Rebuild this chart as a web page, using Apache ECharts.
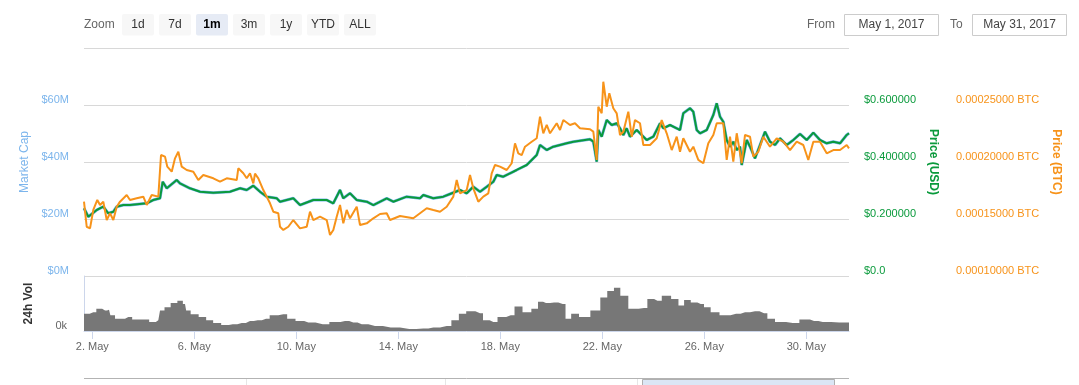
<!DOCTYPE html>
<html>
<head>
<meta charset="utf-8">
<script src="https://cdn.jsdelivr.net/npm/echarts@6/dist/echarts.min.js"></script>
<style>
html,body{margin:0;padding:0;background:#fff;}
#chart{width:1079px;height:385px;}
</style>
</head>
<body>
<div id="chart"></div>
<script>
// ---- data (x = days since 2017-05-01 00:00 UTC) ----
const usdDays = [
 0.674,0.843,1.172,1.431,1.627,1.824,1.957,2.216,2.478,3.133,
 3.392,3.655,3.761,3.918,4.310,4.439,4.831,5.224,5.745,6.400,
 6.792,7.055,7.314,7.576,7.839,8.231,8.361,8.882,9.145,9.667,
 10.192,10.450,10.714,10.843,11.106,11.369,11.761,12.020,12.545,12.804,
 13.329,13.851,13.980,14.373,14.765,15.027,15.420,15.683,15.941,16.204,
 16.467,16.725,16.859,17.118,17.380,17.643,18.035,18.427,18.557,18.820,
 19.078,19.341,19.604,19.863,20.125,20.518,20.647,20.714,20.780,20.843,
 20.976,21.173,21.369,21.565,21.694,21.824,21.955,22.086,22.349,22.545,
 22.741,23.000,23.263,23.392,23.655,23.918,24.047,24.176,24.439,24.569,
 24.702,24.831,25.094,25.353,25.486,25.616,25.745,25.878,26.008,26.137,
 26.271,26.400,26.467,26.663,26.792,26.988,27.184,27.380,27.576,27.773,
 27.969,28.231,28.490,28.753,29.016,29.275,29.537,29.800,30.059,30.322,
 30.584,30.674
];
const usdPrice = [
 0.2376,0.2080,0.2316,0.2432,0.2200,0.2256,0.2432,0.2490,0.2490,0.2550,
 0.2667,0.2726,0.3310,0.3077,0.3368,0.3250,0.3077,0.2958,0.2923,0.2958,
 0.3077,0.3018,0.3169,0.2958,0.2783,0.2726,0.2607,0.2726,0.2490,0.2667,
 0.2667,0.2550,0.3018,0.2726,0.2902,0.2667,0.2607,0.2490,0.2726,0.2607,
 0.2783,0.2726,0.2842,0.2726,0.2783,0.2877,0.3018,0.2902,0.3134,0.2958,
 0.3134,0.3309,0.3544,0.3484,0.3604,0.3720,0.3895,0.4246,0.4597,0.4421,
 0.4537,0.4597,0.4656,0.4713,0.4748,0.4797,0.4713,0.4362,0.4011,0.5123,
 0.4888,0.5474,0.5299,0.5358,0.5183,0.4948,0.5183,0.4888,0.5123,0.4948,
 0.4772,0.4888,0.5358,0.5183,0.5299,0.5183,0.5123,0.5709,0.5885,0.5765,
 0.5123,0.5007,0.5123,0.5650,0.6060,0.5590,0.5414,0.4772,0.4537,0.4713,
 0.4421,0.4537,0.3895,0.4772,0.4537,0.4130,0.4597,0.5064,0.4713,0.4597,
 0.4831,0.4597,0.4772,0.4983,0.4772,0.5029,0.4772,0.4656,0.4713,0.4656,
 0.4948,0.5007
];
const btcDays = [
 0.674,0.780,0.910,1.039,1.196,1.302,1.431,1.565,1.694,1.824,
 1.957,2.086,2.349,2.478,2.741,3.000,3.133,3.329,3.588,3.694,
 3.851,3.941,4.114,4.243,4.373,4.506,4.702,4.961,5.157,5.353,
 5.745,6.008,6.271,6.663,6.725,6.922,7.055,7.184,7.314,7.380,
 7.510,7.706,7.969,8.098,8.294,8.361,8.490,8.686,8.882,9.145,
 9.408,9.537,9.667,9.929,10.192,10.322,10.451,10.584,10.714,10.843,
 10.976,11.106,11.369,11.498,11.761,12.020,12.282,12.545,12.675,13.067,
 13.588,13.851,14.114,14.373,14.635,14.898,15.157,15.290,15.420,15.683,
 15.812,15.941,16.137,16.333,16.529,16.663,16.792,16.988,17.251,17.447,
 17.576,17.706,17.839,17.969,18.231,18.427,18.557,18.686,18.820,18.949,
 19.212,19.341,19.471,19.733,19.929,20.125,20.518,20.647,20.780,20.843,
 20.976,21.039,21.173,21.275,21.431,21.565,21.694,21.824,22.020,22.153,
 22.282,22.478,22.608,22.871,23.133,23.329,23.525,23.722,23.918,24.047,
 24.176,24.439,24.569,24.765,24.961,25.157,25.353,25.486,25.745,25.878,
 26.008,26.137,26.271,26.467,26.596,26.792,26.922,27.118,27.314,27.576,
 27.839,28.098,28.361,28.624,28.882,29.078,29.275,29.537,29.800,30.059,
 30.322,30.584,30.674
];
const btcPrice = [
 0.0001652,0.0001432,0.0001418,0.0001579,0.0001667,0.0001623,0.0001652,0.0001491,0.0001550,0.0001491,
 0.0001608,0.0001652,0.0001711,0.0001667,0.0001682,0.0001696,0.0001623,0.0001711,0.0001696,0.0002061,
 0.0002047,0.0001959,0.0001915,0.0002032,0.0002090,0.0001959,0.0001930,0.0001915,0.0001842,0.0001886,
 0.0001857,0.0001827,0.0001857,0.0001842,0.0001945,0.0001901,0.0001857,0.0001901,0.0001813,0.0001898,
 0.0001857,0.0001754,0.0001638,0.0001564,0.0001550,0.0001432,0.0001404,0.0001432,0.0001491,0.0001418,
 0.0001432,0.0001564,0.0001491,0.0001520,0.0001491,0.0001360,0.0001404,0.0001520,0.0001623,0.0001462,
 0.0001579,0.0001506,0.0001608,0.0001447,0.0001462,0.0001506,0.0001544,0.0001550,0.0001491,0.0001526,
 0.0001506,0.0001550,0.0001594,0.0001579,0.0001564,0.0001608,0.0001696,0.0001842,0.0001725,0.0001754,
 0.0001886,0.0001769,0.0001652,0.0001696,0.0001725,0.0001901,0.0001974,0.0001959,0.0001930,0.0001989,
 0.0002164,0.0002076,0.0002061,0.0002134,0.0002178,0.0002208,0.0002397,0.0002252,0.0002325,0.0002252,
 0.0002340,0.0002281,0.0002368,0.0002325,0.0002340,0.0002296,0.0002287,0.0002266,0.0002018,0.0002485,
 0.0002427,0.0002704,0.0002485,0.0002603,0.0002471,0.0002427,0.0002237,0.0002266,0.0002441,0.0002222,
 0.0002368,0.0002340,0.0002149,0.0002149,0.0002208,0.0002368,0.0002252,0.0002105,0.0002222,0.0002090,
 0.0002208,0.0002090,0.0002134,0.0002018,0.0001989,0.0002164,0.0002237,0.0002340,0.0002340,0.0002018,
 0.0002222,0.0002003,0.0002252,0.0001989,0.0002237,0.0002222,0.0002047,0.0002090,0.0002222,0.0002134,
 0.0002208,0.0002178,0.0002105,0.0002178,0.0002149,0.0002018,0.0002178,0.0002178,0.0002076,0.0002105,
 0.0002105,0.0002149,0.0002120
];
const volDays = [
 0.674,0.753,1.039,1.275,1.498,1.655,1.761,2.020,2.282,2.412,
 2.714,3.067,3.392,3.588,3.722,3.941,4.204,4.467,4.635,4.725,
 4.988,5.353,5.576,5.902,6.204,6.506,6.859,7.184,7.486,7.812,
 8.098,8.490,8.792,9.145,9.471,10.035,10.557,10.910,11.235,11.565,
 12.086,12.702,13.431,13.980,14.373,14.898,15.263,15.486,15.839,16.204,
 16.439,16.725,17.055,17.408,17.706,18.035,18.400,18.557,18.792,19.106,
 19.447,19.667,19.890,20.282,20.780,21.063,21.325,21.588,21.824,22.216,
 22.635,22.898,23.161,23.502,23.894,24.078,24.337,24.600,24.859,25.118,
 25.380,25.812,26.243,26.596,26.988,27.341,27.604,27.941,28.467,28.988,
 29.302,29.643,30.294,30.674
];
const volume = [
 1250000,1250000,1370000,1610000,1490000,1540000,1140000,900000,900000,1020000,
 830000,830000,660000,780000,1490000,1730000,2040000,2200000,1960000,1490000,
 1210000,1020000,780000,590000,430000,500000,590000,730000,780000,900000,
 1140000,1210000,900000,730000,620000,500000,660000,730000,620000,500000,
 360000,260000,140000,190000,260000,360000,780000,1250000,1440000,1300000,
 780000,660000,1020000,1140000,1780000,1370000,1610000,2130000,2040000,2080000,
 1960000,900000,1250000,1020000,1490000,2440000,2910000,3150000,2560000,1610000,
 1680000,2320000,2200000,2560000,2320000,1850000,2250000,2080000,1960000,1730000,
 1370000,1140000,1250000,1370000,1440000,1300000,900000,660000,590000,830000,
 730000,660000,620000,620000
];
const tickDays = [1,5,9,13,17,21,25,29];   // May 2, 6, ... 30 at 00:00
const monthName = 'May';
const capTicks = [0,20e6,40e6,60e6];
const zoomButtons = ['1d','7d','1m','3m','1y','YTD','ALL'];
const selectedZoom = '1m';
const fromDate = 'May 1, 2017';
const toDate = 'May 31, 2017';

// ---- build ----
const pairs = (xs, ys) => xs.map((d,i)=>[d, ys[i]]);
const xMin = 0.674, xMax = 30.674;
const FONT = "'Liberation Sans', Arial, Helvetica, sans-serif";
const GREEN = '#0a9a3c', ORANGE = '#f7931a', BLUE = '#7cb5ec';

const graphics = [];
function txt(x,y,s,opt){
  opt = opt||{};
  graphics.push({type:'text', x:x, y:y, silent:true, style:{
    text:s, fill:opt.fill||'#666', font:(opt.weight||'normal')+' '+(opt.size||12)+'px '+FONT,
    align:opt.align||'left', verticalAlign:'middle'}});
}
txt(84,24.5,'Zoom',{fill:'#666'});
zoomButtons.forEach((b,i)=>{
  const x = 122 + i*37;
  const sel = b===selectedZoom;
  graphics.push({type:'rect', silent:true, shape:{x:x,y:14,width:32,height:21.5,r:2},
    style:{fill: sel?'#e6ebf5':'#f7f7f7'}});
  txt(x+16,24.5,b,{align:'center',fill: sel?'#000':'#333',weight: sel?'bold':'normal'});
});
txt(835,24.5,'From',{align:'right'});
graphics.push({type:'rect', silent:true, shape:{x:844.5,y:14.5,width:94,height:21},
  style:{fill:'#fff',stroke:'#cccccc',lineWidth:1}});
txt(891.5,25,fromDate,{align:'center',fill:'#444'});
txt(950,24.5,'To',{});
graphics.push({type:'rect', silent:true, shape:{x:972.5,y:14.5,width:94,height:21},
  style:{fill:'#fff',stroke:'#cccccc',lineWidth:1}});
txt(1019.5,25,toDate,{align:'center',fill:'#444'});
graphics.push({type:'line', silent:true, shape:{x1:84,y1:378.5,x2:849,y2:378.5}, style:{stroke:'#b3b3b3',lineWidth:1}});
[246.5,445.5,637.5].forEach(x=>graphics.push({type:'line', silent:true, shape:{x1:x,y1:379,x2:x,y2:386}, style:{stroke:'#e6e6e6',lineWidth:1}}));
graphics.push({type:'rect', silent:true, shape:{x:642.5,y:379.5,width:192,height:8},
  style:{fill:'#dbe6f5',stroke:'#b0b0b0',lineWidth:1}});

const option = {
  animation:false,
  textStyle:{fontFamily:FONT},
  graphic:{elements:graphics},
  grid:[
    {left:84, top:48, width:765, height:228, containLabel:false},
    {left:84, top:276, width:765, height:55, containLabel:false}
  ],
  xAxis:[
    {type:'value', gridIndex:0, min:xMin, max:xMax, show:false},
    {type:'value', gridIndex:1, min:xMin, max:xMax,
      axisLine:{show:true, lineStyle:{color:'#ccd6eb', width:1}},
      axisTick:{show:true, customValues:tickDays, length:8, lineStyle:{color:'#ccd6eb'}},
      axisLabel:{show:true, customValues:tickDays, color:'#666', fontSize:11, margin:10,
        formatter:v=>(Math.round(v)+1)+'. '+monthName},
      splitLine:{show:false}}
  ],
  yAxis:[
    {type:'value', gridIndex:0, position:'left', min:0, max:80e6, interval:20e6,
      name:'Market Cap', nameLocation:'middle', nameRotate:90, nameGap:49,
      nameTextStyle:{color:BLUE, fontSize:12},
      axisLine:{show:false}, axisTick:{show:false},
      axisLabel:{color:BLUE, fontSize:11, margin:15, verticalAlign:'bottom',
        formatter:v=>capTicks.indexOf(v)>=0?('$'+(v/1e6)+'M'):''},
      splitLine:{show:true, lineStyle:{color:'#d8d8d8', width:1}}},
    {type:'value', gridIndex:0, position:'right', min:0, max:0.8, interval:0.2,
      name:'Price (USD)', nameLocation:'middle', nameRotate:-90, nameGap:72,
      nameTextStyle:{color:GREEN, fontSize:12, fontWeight:'bold'},
      axisLine:{show:false}, axisTick:{show:false},
      axisLabel:{color:GREEN, fontSize:11, margin:15, verticalAlign:'bottom',
        formatter:v=>v===0?'$0.0':(v>0.7?'':'$'+v.toFixed(6))},
      splitLine:{show:false}},
    {type:'value', gridIndex:0, position:'right', offset:92, min:0.0001, max:0.0003, interval:0.00005,
      name:'Price (BTC)', nameLocation:'middle', nameRotate:-90, nameGap:108,
      nameTextStyle:{color:ORANGE, fontSize:12, fontWeight:'bold'},
      axisLine:{show:false}, axisTick:{show:false},
      axisLabel:{color:ORANGE, fontSize:11, margin:15, verticalAlign:'bottom',
        formatter:v=>v>0.00027?'':v.toFixed(8)+' BTC'},
      splitLine:{show:false}},
    {type:'value', gridIndex:1, position:'left', min:0, max:4e6,
      name:'24h Vol', nameLocation:'middle', nameRotate:90, nameGap:49,
      nameTextStyle:{color:'#333', fontSize:12, fontWeight:'bold'},
      axisLine:{show:true, lineStyle:{color:'#ccd6eb'}}, axisTick:{show:false},
      axisLabel:{customValues:[0], color:'#666', fontSize:11, margin:17, verticalAlign:'bottom',
        formatter:v=>(v/1000)+'k'},
      splitLine:{show:false}}
  ],
  series:[
    {name:'Market Cap', type:'line', xAxisIndex:0, yAxisIndex:1, data:pairs(usdDays,usdPrice),
      symbol:'none', lineStyle:{color:BLUE, width:3}, itemStyle:{color:BLUE}, z:2},
    {name:'Price (USD)', type:'line', xAxisIndex:0, yAxisIndex:1, data:pairs(usdDays,usdPrice),
      symbol:'none', lineStyle:{color:GREEN, width:2}, itemStyle:{color:GREEN}, z:3},
    {name:'Price (BTC)', type:'line', xAxisIndex:0, yAxisIndex:2, data:pairs(btcDays,btcPrice),
      symbol:'none', lineStyle:{color:ORANGE, width:2}, itemStyle:{color:ORANGE}, z:4},
    {name:'24h Vol', type:'line', xAxisIndex:1, yAxisIndex:3, data:pairs(volDays,volume),
      step:'middle', symbol:'none', lineStyle:{width:0, color:'#777'},
      areaStyle:{color:'#777', opacity:1}, itemStyle:{color:'#777'}, z:2}
  ]
};
const chart = echarts.init(document.getElementById('chart'), null, {renderer:'canvas'});
chart.setOption(option);
</script>
</body>
</html>
